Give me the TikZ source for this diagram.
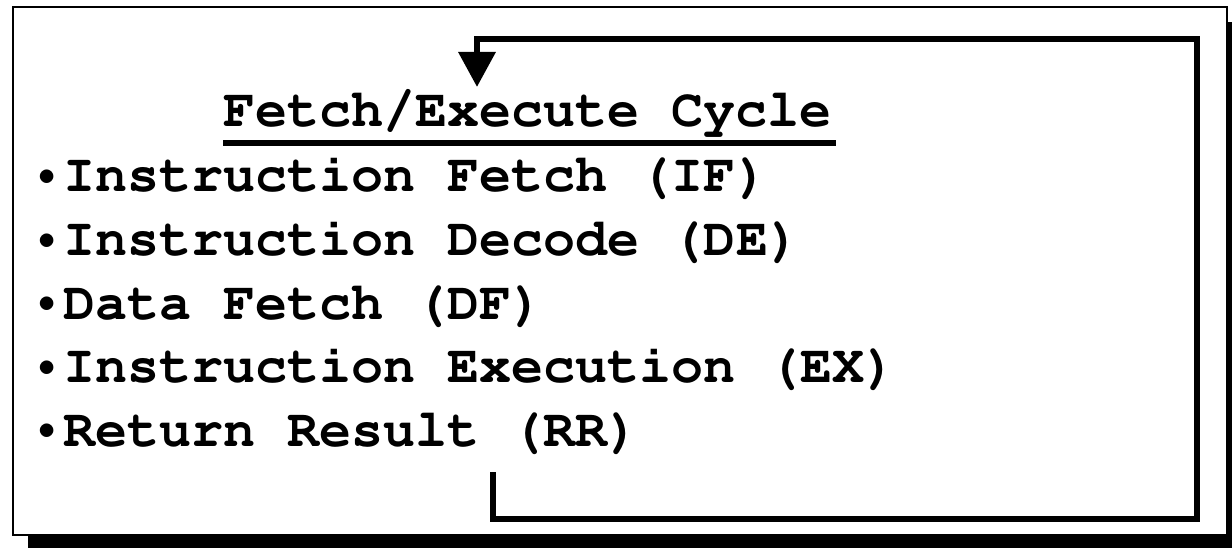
\documentclass[tikz,border=0pt]{standalone}
\usepackage[T1]{fontenc}
\usepackage{textcomp}
\usepackage{courier}
\usepackage{graphicx}
\usetikzlibrary{arrows.meta}

% a slightly smaller bullet kept in a full character cell
\newcommand{\stepmark}{\makebox[0.6em]{\raisebox{0.02em}{\scalebox{0.85}{\textbullet}}}}

\tikzset{
  listtext/.style={anchor=base west, inner sep=0pt,
    font=\fontsize{53.4}{60}\selectfont\ttfamily\bfseries},
  loopline/.style={line width=6.5pt, line join=miter, line cap=butt},
  frame/.style={draw=black, fill=white, line width=1.5pt},
}

\begin{document}
\begin{tikzpicture}[x=1pt, y=-1pt]
  \useasboundingbox (0,0) rectangle (1232,548);

  % drop shadow of the panel
  \begin{scope}
    \clip (0,0) rectangle (1232,548);
    \fill[black] (28,22) rectangle (1250,560);
  \end{scope}

  % panel
  \draw[frame] (13,7) rectangle (1227,535);

  % heading and its underline
  \node[listtext] (title) at (223,127) {Fetch/Execute Cycle};
  \draw[line width=6pt] ([yshift=-16pt]title.base west) -- ([yshift=-16pt,xshift=4pt]title.base east);

  % the five steps
  \node[listtext] (if) at (31,192)   {\stepmark Instruction Fetch (IF)};
  \node[listtext] (de) at (31,255.5) {\stepmark Instruction Decode (DE)};
  \node[listtext] (df) at (31,319)   {\stepmark Data Fetch (DF)};
  \node[listtext] (ex) at (31,382.5) {\stepmark Instruction Execution (EX)};
  \node[listtext] (rr) at (31,446)   {\stepmark Return Result (RR)};

  % loop back from the last step to the heading
  \coordinate (loopstart) at (493,472);
  \coordinate (loopend) at (477,87);
  \draw[loopline, -{Triangle[length=35pt,width=36pt]}]
    (loopstart) -- (493,519) -- (1197,519) -- (1197,39) -- (477,39) -- (loopend);
\end{tikzpicture}
\end{document}
